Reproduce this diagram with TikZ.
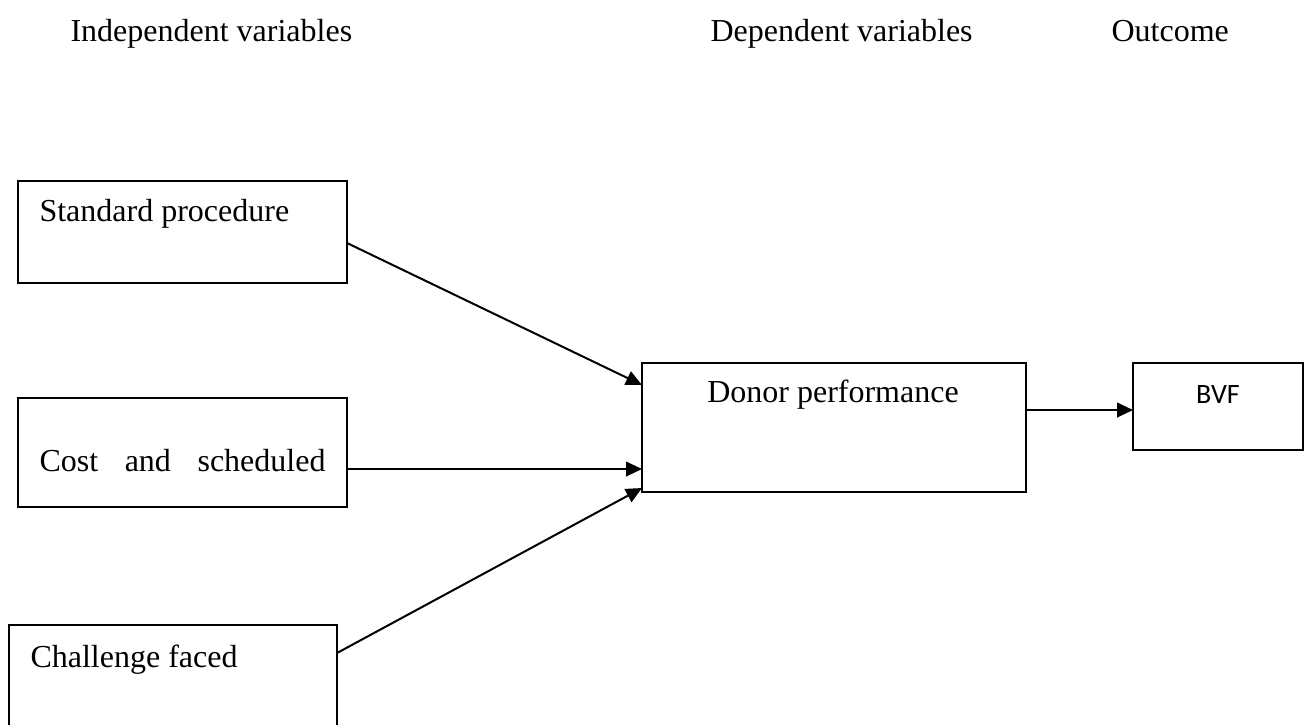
\documentclass[tikz,border=0pt]{standalone}
\usepackage{fontspec}
\setmainfont{Liberation Serif}
\newfontfamily\bvffont{Carlito}
\usetikzlibrary{arrows.meta,calc}
\begin{document}
\begin{tikzpicture}[x=0.375pt,y=-0.375pt,
  box/.style={draw, line width=0.75pt, inner sep=0pt, outer sep=0pt, anchor=north west},
  lbl/.style={inner sep=0pt, anchor=base west, font=\fontsize{12}{14}\selectfont},
  clbl/.style={inner sep=0pt, anchor=base, font=\fontsize{12}{14}\selectfont},
  conn/.style={line width=0.75pt, -{Triangle[length=6pt,width=5.5pt]}}]
\useasboundingbox (0,0) rectangle (1309,724);
% headers
\node[lbl] (hind) at (70,41) {Independent variables};
\node[lbl] (hdep) at (710,41) {Dependent variables};
\node[lbl] (hout) at (1111,41) {Outcome};
% boxes
\node[box, minimum width={329*0.375pt}, minimum height={102*0.375pt}] (std) at (18,181) {};
\node[box, minimum width={329*0.375pt}, minimum height={109*0.375pt}] (cost) at (18,398) {};
\node[box, minimum width={328*0.375pt}, minimum height={130*0.375pt}] (chal) at (9,625) {};
\node[box, minimum width={384*0.375pt}, minimum height={129*0.375pt}] (don) at (642,363) {};
\node[box, minimum width={170*0.375pt}, minimum height={87*0.375pt}] (bvf) at (1133,363) {};
% texts
\node[lbl] (tstd) at (39,221) {Standard procedure};
\node[lbl] (tcost) at (39,471) {\makebox[107.25pt][s]{Cost and scheduled}};
\node[lbl] (tchal) at (30,667) {Challenge faced};
\node[clbl] (tdon) at (833,402) {Donor performance};
\node[inner sep=0pt, anchor=base, font=\bvffont\fontsize{10.5}{12}\selectfont] (tbvf) at (1218,403) {BVF};
% connectors
\draw[conn] ($(std.north east)+(0,62)$) -- ($(don.north west)+(0,22)$);
\draw[conn] ($(cost.north east)+(0,71)$) -- ($(don.north west)+(0,106)$);
\draw[conn] ($(chal.north east)+(0,28)$) -- ($(don.north west)+(0,125)$);
\draw[conn] ($(don.north east)+(0,47)$) -- ($(bvf.north west)+(0,47)$);
\end{tikzpicture}
\end{document}
